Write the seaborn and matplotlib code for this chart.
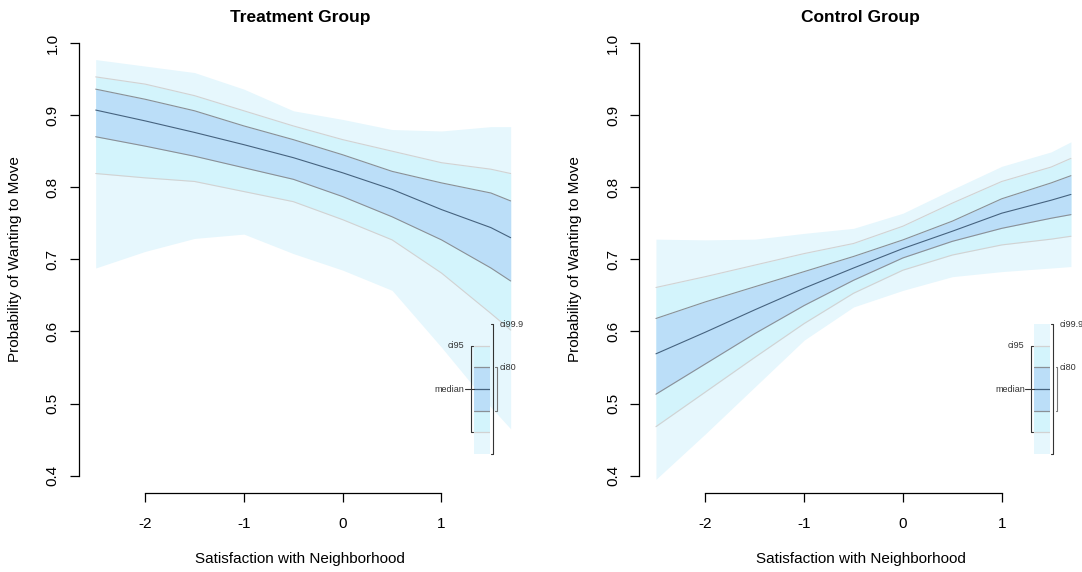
import numpy as np
import pandas as pd
import matplotlib
matplotlib.use("Agg")
import matplotlib.pyplot as plt
import seaborn as sns

# satisfaction values where the curves were read
sat = [-2.5, -2.0, -1.5, -1.0, -0.5, 0.0, 0.5, 1.0, 1.5, 1.7]

# Treatment group
trt_lo999 = [0.688, 0.711, 0.729, 0.735, 0.708, 0.685, 0.657, 0.578, 0.495, 0.465]
trt_lo95 = [0.819, 0.813, 0.808, 0.794, 0.780, 0.755, 0.727, 0.681, 0.625, 0.602]
trt_lo80 = [0.870, 0.857, 0.843, 0.827, 0.811, 0.787, 0.759, 0.727, 0.688, 0.670]
trt_med = [0.907, 0.892, 0.876, 0.859, 0.841, 0.820, 0.797, 0.769, 0.744, 0.730]
trt_hi80 = [0.936, 0.922, 0.906, 0.885, 0.866, 0.845, 0.822, 0.806, 0.792, 0.781]
trt_hi95 = [0.953, 0.943, 0.927, 0.906, 0.885, 0.866, 0.850, 0.834, 0.825, 0.819]
trt_hi999 = [0.977, 0.968, 0.959, 0.936, 0.906, 0.894, 0.880, 0.878, 0.884, 0.884]

# Control group
ctl_lo999 = [0.395, 0.458, 0.523, 0.588, 0.634, 0.657, 0.676, 0.683, 0.688, 0.690]
ctl_lo95 = [0.468, 0.516, 0.564, 0.611, 0.653, 0.685, 0.706, 0.720, 0.728, 0.732]
ctl_lo80 = [0.513, 0.555, 0.597, 0.636, 0.671, 0.702, 0.725, 0.743, 0.757, 0.762]
ctl_med = [0.569, 0.599, 0.630, 0.660, 0.688, 0.715, 0.739, 0.764, 0.782, 0.790]
ctl_hi80 = [0.618, 0.641, 0.662, 0.683, 0.704, 0.727, 0.753, 0.784, 0.806, 0.816]
ctl_hi95 = [0.661, 0.676, 0.692, 0.708, 0.722, 0.746, 0.778, 0.808, 0.828, 0.840]
ctl_hi999 = [0.728, 0.727, 0.728, 0.736, 0.743, 0.764, 0.797, 0.829, 0.849, 0.863]

groups = ["Treatment Group", "Control Group"]

col999 = "#E6F7FD"
col95 = "#D3F4FC"
col80 = "#BBDEF8"
line95 = "#D2D2D2"
line80 = "#8A9096"
line_med = "#46637F"

sns.set_theme(style="white")
plt.rcParams["font.family"] = ["Liberation Sans", "DejaVu Sans"]

fig = plt.figure(figsize=(10.82, 5.72), dpi=100)
ax1 = fig.add_axes([0.0731, 0.1381, 0.4089, 0.8170])
ax2 = fig.add_axes([0.5909, 0.1381, 0.4089, 0.8170])


def draw_panel(ax, title, lo999, lo95, lo80, med, hi80, hi95, hi999):
    df = pd.DataFrame({"x": sat, "lo999": lo999, "lo95": lo95, "lo80": lo80,
                       "med": med, "hi80": hi80, "hi95": hi95, "hi999": hi999})
    ax.fill_between(df["x"], df["lo999"], df["hi999"], color=col999, lw=0)
    ax.fill_between(df["x"], df["lo95"], df["hi95"], color=col95, lw=0)
    ax.fill_between(df["x"], df["lo80"], df["hi80"], color=col80, lw=0)
    for c in ["lo95", "hi95"]:
        sns.lineplot(data=df, x="x", y=c, ax=ax, color=line95, lw=0.8)
    for c in ["lo80", "hi80"]:
        sns.lineplot(data=df, x="x", y=c, ax=ax, color=line80, lw=0.8)
    sns.lineplot(data=df, x="x", y="med", ax=ax, color=line_med, lw=0.8)

    ax.set_xlim(-2.668, 1.81)
    ax.set_ylim(0.376, 1.024)
    ax.set_xticks([-2, -1, 0, 1])
    ax.set_xticklabels(["-2", "-1", "0", "1"])
    ax.set_yticks([0.4, 0.5, 0.6, 0.7, 0.8, 0.9, 1.0])
    ax.set_yticklabels(["0.4", "0.5", "0.6", "0.7", "0.8", "0.9", "1.0"],
                       rotation=90, va="center")
    for s in ["top", "right"]:
        ax.spines[s].set_visible(False)
    for s in ["left", "bottom"]:
        ax.spines[s].set_color("black")
        ax.spines[s].set_linewidth(0.9)
    ax.spines["bottom"].set_bounds(-2, 1)
    ax.spines["left"].set_bounds(0.4, 1.0)
    ax.tick_params(axis="both", direction="out", length=6.5, width=0.9,
                   color="black", labelsize=11, labelcolor="black",
                   bottom=True, left=True)
    ax.tick_params(axis="x", pad=10.5)
    ax.tick_params(axis="y", pad=7.5)
    ax.set_xlabel("Satisfaction with Neighborhood", fontsize=11, color="black")
    ax.set_ylabel("Probability of Wanting to Move", fontsize=11, color="black")
    ax.xaxis.label.set_va("center")
    ax.yaxis.label.set_va("center")
    ax.xaxis.set_label_coords(0.5, -0.141)
    ax.yaxis.set_label_coords(-0.145, 0.5)
    ax.set_title(title, fontsize=12.5, fontweight="bold", color="black", pad=2.5)

    # small legend bar in the lower right corner
    lax = ax.inset_axes([0.8926, 0.0835, 0.0362, 0.278])
    lax.set_xlim(0, 1)
    lax.set_ylim(0, 6)
    lax.axis("off")
    seg_cols = [col999, col95, col80, col80, col95, col999]
    for i, c in enumerate(seg_cols):
        lax.axhspan(i, i + 1, color=c, lw=0)
    lax.axhline(1, color=line95, lw=0.9)
    lax.axhline(5, color=line95, lw=0.9)
    lax.axhline(2, color=line80, lw=0.9)
    lax.axhline(4, color=line80, lw=0.9)
    lax.axhline(3, color=line_med, lw=0.9)
    kw = dict(clip_on=False, lw=0.8)
    lax.plot([1.06, 1.17, 1.17, 1.06], [6, 6, 0, 0], color="#333333", **kw)
    lax.plot([1.33, 1.42, 1.42, 1.33], [4, 4, 2, 2], color="#777777", **kw)
    lax.plot([-0.08, -0.2, -0.2, -0.08], [5, 5, 1, 1], color="#333333", **kw)
    lax.plot([-0.56, 0], [3, 3], color="#333333", **kw)
    tkw = dict(fontsize=6.5, color="#333333", va="center")
    lax.text(1.6, 6, "ci99.9", ha="left", **tkw)
    lax.text(1.6, 4, "ci80", ha="left", **tkw)
    lax.text(-0.6, 5, "ci95", ha="right", **tkw)
    lax.text(-0.6, 3, "median", ha="right", **tkw)


draw_panel(ax1, groups[0], trt_lo999, trt_lo95, trt_lo80, trt_med,
           trt_hi80, trt_hi95, trt_hi999)
draw_panel(ax2, groups[1], ctl_lo999, ctl_lo95, ctl_lo80, ctl_med,
           ctl_hi80, ctl_hi95, ctl_hi999)

fig.savefig("out.png", dpi=100)
